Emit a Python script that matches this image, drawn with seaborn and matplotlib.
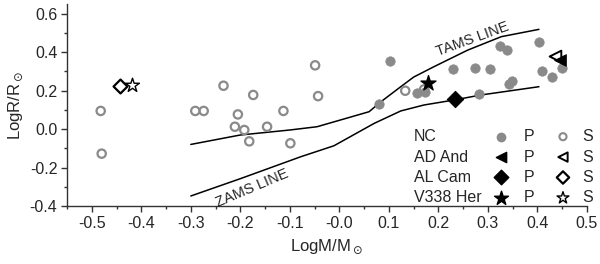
import numpy as np
import pandas as pd
import seaborn as sns
import matplotlib.pyplot as plt
from matplotlib.ticker import MultipleLocator

# NC primaries (filled gray) and secondaries (open gray)
nc_p_m = [0.102, 0.080, 0.157, 0.173, 0.229, 0.274, 0.304, 0.281, 0.324, 0.338,
          0.343, 0.348, 0.403, 0.410, 0.429, 0.449]
nc_p_r = [0.355, 0.128, 0.185, 0.194, 0.312, 0.318, 0.312, 0.180, 0.433, 0.410,
          0.232, 0.251, 0.450, 0.303, 0.272, 0.315]
nc_s_m = [-0.482, -0.480, -0.291, -0.274, -0.234, -0.174, -0.205, -0.113, -0.211,
          -0.192, -0.146, -0.182, -0.099, -0.049, -0.043, 0.133, 0.171]
nc_s_r = [0.094, -0.128, 0.094, 0.094, 0.225, 0.177, 0.076, 0.094, 0.012,
          -0.005, 0.012, -0.064, -0.074, 0.331, 0.171, 0.199, 0.206]

# individual systems: (logM, logR)
ad_and_p = (0.445, 0.358)
ad_and_s = (0.435, 0.379)
al_cam_p = (0.233, 0.156)
al_cam_s = (-0.444, 0.223)
v338_p = (0.178, 0.237)
v338_s = (-0.419, 0.229)

# evolutionary lines
tams_m = [-0.30, -0.20, -0.10, -0.045, 0.06, 0.084, 0.124, 0.15, 0.191, 0.259, 0.327, 0.403]
tams_r = [-0.080, -0.031, -0.005, 0.012, 0.090, 0.142, 0.220, 0.270, 0.324, 0.410, 0.480, 0.518]
zams_m = [-0.30, -0.20, -0.078, -0.011, 0.07, 0.124, 0.171, 0.232, 0.286, 0.403]
zams_r = [-0.348, -0.258, -0.144, -0.087, 0.029, 0.094, 0.125, 0.151, 0.177, 0.220]

sns.set_style("ticks")
plt.rcParams['font.family'] = ['Liberation Sans', 'DejaVu Sans']

fig, ax = plt.subplots(figsize=(6, 2.64), dpi=100)
fig.subplots_adjust(left=0.1117, right=0.9783, bottom=0.2197, top=0.985)

gray = "#8a8a8a"

sns.lineplot(x=tams_m, y=tams_r, sort=False, estimator=None, color="black", lw=1.1, ax=ax)
sns.lineplot(x=zams_m, y=zams_r, sort=False, estimator=None, color="black", lw=1.1, ax=ax)

sns.scatterplot(x=nc_s_m, y=nc_s_r, marker="o", s=36, facecolor="none",
                edgecolor=gray, linewidth=1.6, ax=ax, zorder=3)
sns.scatterplot(x=nc_p_m, y=nc_p_r, marker="o", s=46, color=gray,
                edgecolor=gray, linewidth=0.5, ax=ax, zorder=3)

sns.scatterplot(x=[ad_and_s[0]], y=[ad_and_s[1]], marker="<", s=70, facecolor="white",
                edgecolor="black", linewidth=1.4, ax=ax, zorder=4)
sns.scatterplot(x=[ad_and_p[0]], y=[ad_and_p[1]], marker="<", s=70, color="black",
                edgecolor="black", ax=ax, zorder=5)
sns.scatterplot(x=[al_cam_p[0]], y=[al_cam_p[1]], marker="D", s=70, color="black",
                edgecolor="black", ax=ax, zorder=5)
sns.scatterplot(x=[al_cam_s[0]], y=[al_cam_s[1]], marker="D", s=50, facecolor="white",
                edgecolor="black", linewidth=1.6, ax=ax, zorder=5)
sns.scatterplot(x=[v338_p[0]], y=[v338_p[1]], marker="*", s=130, color="black",
                edgecolor="black", ax=ax, zorder=5)
sns.scatterplot(x=[v338_s[0]], y=[v338_s[1]], marker="*", s=110, facecolor="white",
                edgecolor="black", linewidth=1.0, ax=ax, zorder=5)

ax.text(0.268, 0.468, "TAMS LINE", rotation=20, fontsize=10.5, ha="center", va="center")
ax.text(-0.177, -0.305, "ZAMS LINE", rotation=23, fontsize=10.5, ha="center", va="center")

# legend table
rows = [("NC", dict(marker="o", s=36, c=gray), dict(marker="o", s=26, facecolor="none", edgecolor=gray, linewidth=1.5)),
        ("AD And", dict(marker="<", s=55, c="black"), dict(marker="<", s=45, facecolor="none", edgecolor="black", linewidth=1.4)),
        ("AL Cam", dict(marker="D", s=55, c="black"), dict(marker="D", s=40, facecolor="none", edgecolor="black", linewidth=1.6)),
        ("V338 Her", dict(marker="*", s=110, c="black"), dict(marker="*", s=80, facecolor="none", edgecolor="black", linewidth=1.0))]
for i, (name, pk, sk) in enumerate(rows):
    yy = (206 - (136.7 + 20.4 * i)) / 202
    ax.text((414 - 67) / 520, yy, name, transform=ax.transAxes, fontsize=11.5, va="center", ha="left")
    ax.scatter([(501.5 - 67) / 520], [yy], transform=ax.transAxes, clip_on=False, **pk)
    ax.text((529 - 67) / 520, yy, "P", transform=ax.transAxes, fontsize=11.5, va="center", ha="center")
    ax.scatter([(563 - 67) / 520], [yy], transform=ax.transAxes, clip_on=False, **sk)
    ax.text((587.5 - 67) / 520, yy, "S", transform=ax.transAxes, fontsize=11.5, va="center", ha="center")

ax.set_xlim(-0.55, 0.5)
ax.set_ylim(-0.4, 0.65)
ax.xaxis.set_minor_locator(MultipleLocator(0.05))
ax.yaxis.set_minor_locator(MultipleLocator(0.1))
ax.set_xticks(np.arange(-0.5, 0.51, 0.1))
ax.set_xticklabels([f"{v:.1f}" for v in np.arange(-0.5, 0.51, 0.1)])
ax.set_yticks(np.arange(-0.4, 0.61, 0.2))
ax.set_yticklabels([f"{v:.1f}" for v in np.arange(-0.4, 0.61, 0.2)])
ax.tick_params(which="major", length=4, width=1, labelsize=11.5, pad=3, color="#333333")
ax.tick_params(which="minor", length=2.5, width=1, color="#333333")
for s in ["left", "bottom"]:
    ax.spines[s].set_color("#333333")
    ax.spines[s].set_linewidth(1)
sns.despine(ax=ax)

ax.set_xlabel(r"LogM/M$_\odot$", fontsize=12, labelpad=5)
ax.set_ylabel(r"LogR/R$_\odot$", fontsize=12, labelpad=3)

plt.savefig("out.png", dpi=100)
